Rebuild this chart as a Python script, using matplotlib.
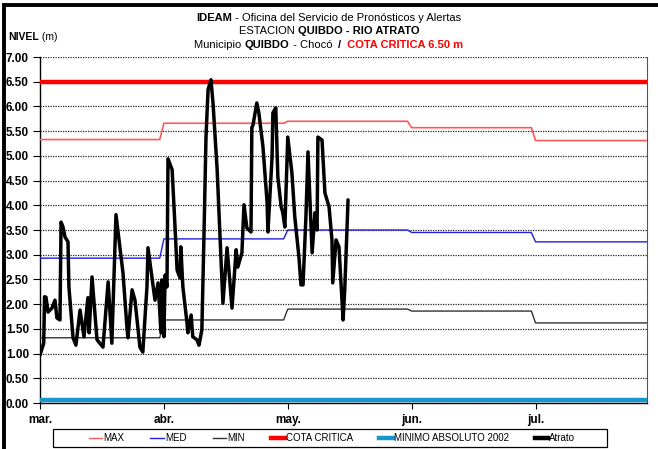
import numpy as np
import matplotlib
matplotlib.use("Agg")
import matplotlib.pyplot as plt
from matplotlib.lines import Line2D
from matplotlib.patches import Rectangle
from matplotlib.offsetbox import TextArea, HPacker, AnnotationBbox

FAM = ['Liberation Sans Narrow', 'Liberation Sans', 'DejaVu Sans']
plt.rcParams['font.family'] = FAM

# ---------------- data ----------------
months = ['mar.', 'abr.', 'may.', 'jun.', 'jul.']
days_per_month = 30
max_monthly = [5.33, 5.66, 5.70, 5.57, 5.31]
med_monthly = [2.93, 3.32, 3.50, 3.45, 3.26]
min_monthly = [1.32, 1.68, 1.90, 1.86, 1.62]
cota_critica = 6.50
minimo_absoluto = 0.07

atrato_t = [0, 0.9, 1.1, 1.45, 1.94, 2.9, 3.63, 4.1, 4.84, 5.1, 5.57, 6.05, 6.78, 7.0,
            8.0, 8.7, 9.7, 10.65, 11.6, 11.9, 12.6, 13.8, 15.25, 16.5, 17.4, 18.4,
            20.1, 21.1, 21.3, 22.3, 23.0, 24.2, 24.9, 25.9, 26.15, 27.1, 27.85, 28.6,
            29.3, 29.5, 30.0, 30.3, 30.75, 31.0, 32.0, 32.7, 33.2, 33.9, 34.1, 34.6,
            35.6, 35.8, 36.6, 37.0, 38.0, 38.5, 39.2, 39.7, 40.2, 40.7, 41.4, 41.9,
            42.9, 43.6, 44.3, 45.3, 46.5, 47.5, 47.9, 48.9, 49.4, 50.1, 51.1, 51.3,
            51.6, 52.5, 53.0, 54.0, 55.0, 55.2, 56.2, 56.4, 57.1, 57.6, 58.4, 58.8,
            59.3, 60.0, 61.0, 61.7, 62.7, 63.2, 63.7, 64.4, 64.9, 65.9, 66.6, 67.1,
            67.3, 68.3, 69.0, 70.0, 70.7, 70.9, 71.7, 72.4, 73.4, 73.8, 74.6]
atrato_level = [0.97, 1.21, 2.15, 2.14, 1.84, 1.92, 2.08, 1.72, 1.68, 3.66, 3.56, 3.36,
                3.26, 2.35, 1.32, 1.17, 1.88, 1.34, 2.13, 1.42, 2.55, 1.28, 1.13, 2.45,
                1.21, 3.81, 2.63, 1.48, 1.32, 2.29, 2.08, 1.13, 1.03, 2.35, 3.14, 2.55,
                2.08, 2.43, 1.42, 2.49, 1.34, 2.59, 2.35, 4.94, 4.72, 3.56, 2.69, 2.53,
                3.16, 2.35, 1.62, 1.42, 1.78, 1.34, 1.28, 1.17, 1.48, 3.36, 5.38, 6.34,
                6.54, 6.07, 4.72, 3.36, 2.02, 3.14, 1.92, 3.10, 2.75, 3.04, 4.01, 3.54,
                3.46, 5.57, 5.63, 6.07, 5.87, 5.18, 4.05, 3.46, 4.98, 5.87, 5.97, 4.57,
                3.97, 3.85, 3.56, 5.38, 4.66, 3.77, 2.96, 2.39, 2.39, 3.77, 5.08, 3.04,
                3.85, 3.50, 5.38, 5.32, 4.25, 3.97, 3.30, 2.43, 3.30, 3.16, 1.68, 2.29,
                4.11]

# daily reference series (constant within each month)
n_days = days_per_month * len(months)
days = np.arange(n_days)
max_daily = np.repeat(max_monthly, days_per_month)
med_daily = np.repeat(med_monthly, days_per_month)
min_daily = np.repeat(min_monthly, days_per_month)

# ---------------- figure ----------------
W, H = 658, 449
fig = plt.figure(figsize=(W / 100, H / 100), dpi=100)
ax = fig.add_axes([40 / W, 1 - 403 / H, (647 - 40) / W, (403 - 57) / H])

ax.plot(days, max_daily, color='#ff5a5a', lw=1.2, label='MAX', zorder=3)
ax.plot(days, med_daily, color='#2020e0', lw=1.0, label='MED', zorder=3)
ax.plot(days, min_daily, color='#333333', lw=1.0, label='MIN', zorder=3)
ax.plot(days, np.full(n_days, cota_critica), color='#ff0000', lw=3.2,
        label='COTA CRITICA', zorder=3)
ax.plot(days, np.full(n_days, minimo_absoluto), color='#1596cc', lw=3.2,
        label='MINIMO ABSOLUTO 2002', zorder=3)
ax.plot(atrato_t, atrato_level, color='black', lw=2.5, solid_joinstyle='round',
        solid_capstyle='round', label='Atrato', zorder=4)

ax.set_xlim(0, 147)
ax.set_ylim(0, 7)
yt = np.arange(0, 7.01, 0.5)
ax.set_yticks(yt)
ax.set_yticklabels([f'{v:.2f}' for v in yt], fontweight='bold', fontsize=8.5)
ax.set_xticks([i * days_per_month for i in range(len(months))])
ax.set_xticklabels(months, fontweight='bold', fontsize=8.5)
ax.tick_params(axis='y', direction='out', length=5, width=0.8, pad=3)
ax.tick_params(axis='x', direction='out', length=4, width=0.8, pad=4)
ax.yaxis.grid(True, color='#222222', linestyle=(0, (1, 1)), lw=0.9)
ax.set_axisbelow(True)
ax.spines['top'].set_visible(False)
ax.spines['right'].set_color('#555555')
ax.spines['right'].set_linewidth(0.8)
ax.spines['left'].set_linewidth(1.0)
ax.spines['bottom'].set_linewidth(1.0)

# ---------------- titles ----------------
def line_of(parts, y, fs=8.0):
    areas = [TextArea(t, textprops=dict(fontweight=w, color=c, fontsize=fs, family=FAM))
             for t, w, c in parts]
    box = HPacker(children=areas, pad=0, sep=0, align='baseline')
    ab = AnnotationBbox(box, (329 / W, 1 - y / H), xycoords='figure fraction',
                        frameon=False, box_alignment=(0.5, 0.5), pad=0)
    fig.add_artist(ab)

line_of([('IDEAM', 'bold', 'black'),
         (' - Oficina del Servicio de Pronósticos y Alertas', 'normal', 'black')], 18)
line_of([('ESTACION ', 'normal', 'black'),
         ('QUIBDO - RIO ATRATO', 'bold', 'black')], 31)
line_of([('Municipio ', 'normal', 'black'), ('QUIBDO', 'bold', 'black'),
         (' - Chocó  ', 'normal', 'black'), ('/ ', 'bold', 'black'),
         (' COTA CRITICA 6.50 m', 'bold', '#ff0000')], 45)

t1 = TextArea('NIVEL', textprops=dict(fontweight='bold', fontsize=7.5, family=FAM))
t2 = TextArea(' (m)', textprops=dict(fontweight='normal', fontsize=7.5, family=FAM))
fig.add_artist(AnnotationBbox(HPacker(children=[t1, t2], pad=0, sep=0, align='baseline'),
                              (8 / W, 1 - 37 / H), xycoords='figure fraction',
                              frameon=False, box_alignment=(0, 0.5), pad=0))

# ---------------- legend ----------------
handles, labels = ax.get_legend_handles_labels()
leg_handles = [Line2D([], [], color=h.get_color(),
                      lw=(3.2 if h.get_linewidth() > 2 else 1.0)) for h in handles]
leg = fig.legend(leg_handles, labels, loc='center', bbox_to_anchor=(332 / W, 1 - 438 / H),
                 ncol=6, frameon=False, fontsize=7, handlelength=1.4, handletextpad=0.1,
                 columnspacing=2.7, borderpad=0.2)
fig.add_artist(Rectangle((53 / W, 1 - 447 / H), (607 - 53) / W, 18 / H,
                         transform=fig.transFigure, fill=False, edgecolor='black', lw=0.9))

# ---------------- outer frame (left & top) ----------------
fig.add_artist(Line2D([3.5 / W, 3.5 / W, 1.0], [0, 1 - 4.5 / H, 1 - 4.5 / H],
                      transform=fig.transFigure, color='black', lw=2.8,
                      solid_joinstyle='miter'))

fig.savefig('out.png', dpi=100)
